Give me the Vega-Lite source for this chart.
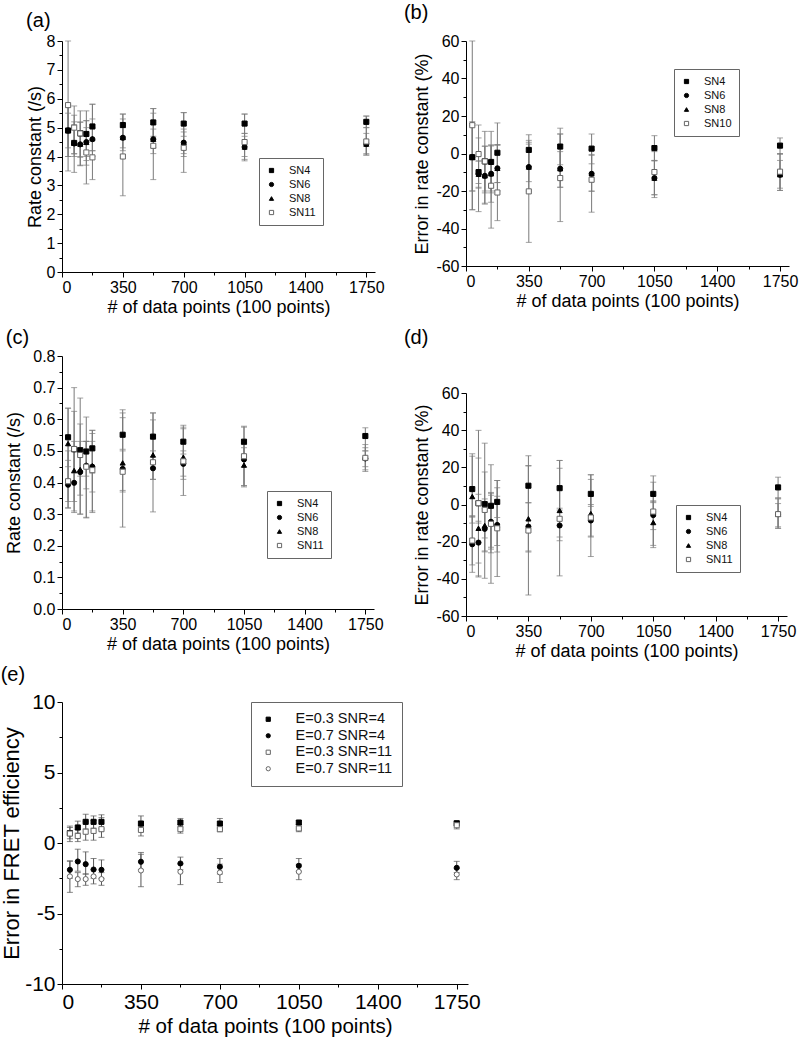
{
"$schema": "https://vega.github.io/schema/vega-lite/v6.json",
"padding": {"left": 0, "top": 3, "right": 2, "bottom": 2},
"columns": 2,
"align": "none",
"spacing": {"row": 12, "column": -78},
"resolve": {"scale": {"shape": "independent", "fill": "independent", "stroke": "independent", "x": "independent", "y": "independent"}, "legend": {"shape": "independent", "fill": "independent", "stroke": "independent"}, "axis": {"x": "independent", "y": "independent"}},
"config": {
  "font": "Liberation Sans",
  "view": {"stroke": null},
  "axis": {"grid": false, "labelOverlap": false, "domainColor": "black", "tickColor": "black", "labelColor": "black", "titleColor": "black", "labelFont": "Liberation Sans", "titleFont": "Liberation Sans", "titleFontWeight": "normal", "labelFontSize": 16, "titleFontSize": 18, "labelPadding": 2, "domainWidth": 1, "tickWidth": 1},
  "legend": {"labelFont": "Liberation Sans", "labelColor": "#111", "strokeColor": "#666", "fillColor": "white", "padding": 7, "labelFontSize": 11, "symbolSize": 18, "rowPadding": 2, "labelOffset": 12, "symbolStrokeWidth": 1},
  "title": {"font": "Liberation Sans", "fontSize": 20, "fontWeight": "normal", "anchor": "start", "color": "black"}
},
"concat": [
{
 "width": 313, "height": 231,
 "title": {"text": "(a)", "offset": 2},
 "data": {"values": [
  {"s":"SN4","n":35,"v":4.9,"lo":4.0,"hi":5.8},
  {"s":"SN8","n":35,"v":4.9,"lo":4.0,"hi":5.7},
  {"s":"SN6","n":35,"v":4.9,"lo":4.3,"hi":5.5},
  {"s":"SN6","n":70,"v":4.45,"lo":4.1,"hi":5.1},
  {"s":"SN6","n":105,"v":4.42,"lo":4.0,"hi":4.9},
  {"s":"SN6","n":140,"v":4.5,"lo":4.0,"hi":5.0},
  {"s":"SN6","n":175,"v":4.6,"lo":4.2,"hi":5.0},
  {"s":"SN6","n":350,"v":4.65,"lo":4.3,"hi":5.0},
  {"s":"SN6","n":525,"v":4.6,"lo":4.3,"hi":4.95},
  {"s":"SN6","n":700,"v":4.48,"lo":4.1,"hi":4.85},
  {"s":"SN6","n":1050,"v":4.33,"lo":4.0,"hi":4.7},
  {"s":"SN6","n":1750,"v":4.43,"lo":4.1,"hi":4.8},
  {"s":"SN4","n":70,"v":4.47,"lo":4.09,"hi":5.43},
  {"s":"SN4","n":105,"v":4.8,"lo":3.97,"hi":5.18},
  {"s":"SN4","n":140,"v":4.78,"lo":3.86,"hi":5.58},
  {"s":"SN4","n":175,"v":5.04,"lo":4.2,"hi":5.81},
  {"s":"SN4","n":350,"v":5.09,"lo":4.7,"hi":5.47},
  {"s":"SN4","n":525,"v":5.18,"lo":4.7,"hi":5.66},
  {"s":"SN4","n":700,"v":5.14,"lo":4.7,"hi":5.52},
  {"s":"SN4","n":1050,"v":5.14,"lo":4.8,"hi":5.47},
  {"s":"SN4","n":1750,"v":5.2,"lo":5.0,"hi":5.4},
  {"s":"SN8","n":70,"v":4.47,"lo":4.0,"hi":5.2},
  {"s":"SN8","n":105,"v":4.43,"lo":3.7,"hi":5.2},
  {"s":"SN8","n":140,"v":4.49,"lo":3.7,"hi":5.24},
  {"s":"SN8","n":175,"v":4.62,"lo":4.0,"hi":5.3},
  {"s":"SN8","n":350,"v":4.66,"lo":4.2,"hi":5.3},
  {"s":"SN8","n":525,"v":4.6,"lo":4.1,"hi":5.5},
  {"s":"SN8","n":700,"v":4.48,"lo":4.0,"hi":4.95},
  {"s":"SN8","n":1050,"v":4.33,"lo":3.9,"hi":4.8},
  {"s":"SN8","n":1750,"v":4.43,"lo":4.05,"hi":5.0},
  {"s":"SN11","n":35,"v":5.78,"lo":3.5,"hi":8.0},
  {"s":"SN11","n":70,"v":5.0,"lo":3.45,"hi":5.75},
  {"s":"SN11","n":105,"v":4.8,"lo":3.68,"hi":5.58},
  {"s":"SN11","n":140,"v":4.14,"lo":3.05,"hi":5.24},
  {"s":"SN11","n":175,"v":3.97,"lo":3.2,"hi":5.81},
  {"s":"SN11","n":350,"v":4.0,"lo":2.64,"hi":5.47},
  {"s":"SN11","n":525,"v":4.37,"lo":3.2,"hi":5.66},
  {"s":"SN11","n":700,"v":4.3,"lo":3.45,"hi":5.52},
  {"s":"SN11","n":1050,"v":4.5,"lo":3.85,"hi":5.47},
  {"s":"SN11","n":1750,"v":4.52,"lo":4.05,"hi":5.4}
 ]},
 "layer": [
  {"mark": {"type": "errorbar", "ticks": true, "color": "#7a7a7a", "size": 6, "thickness": 1},
   "encoding": {
    "x": {"field": "n", "type": "quantitative", "title": "# of data points (100 points)", "scale": {"domain": [0, 1800], "nice": false},
      "axis": {"labelOverlap": false, "values": [0,175,350,525,700,875,1050,1225,1400,1575,1750], "labelExpr": "datum.value % 350 === 0 ? '' + datum.value : ''", "tickSize": {"condition": {"test": "datum.value % 350 !== 0", "value": 3}, "value": 5}, "titlePadding": 3}},
    "y": {"field": "lo", "type": "quantitative", "title": "Rate constant (/s)", "scale": {"domain": [0, 8], "nice": false},
      "axis": {"labelOverlap": false, "values": [0,0.5,1,1.5,2,2.5,3,3.5,4,4.5,5,5.5,6,6.5,7,7.5,8], "labelExpr": "datum.value % 1 === 0 ? '' + datum.value : ''", "tickSize": {"condition": {"test": "datum.value % 1 !== 0", "value": 3}, "value": 5}, "titlePadding": 2}},
    "y2": {"field": "hi"}
   }},
  {"mark": {"type": "point", "filled": true, "size": 26, "strokeWidth": 1, "opacity": 1},
   "encoding": {
    "x": {"field": "n", "type": "quantitative", "title": "# of data points (100 points)",
      "axis": {"labelOverlap": false, "values": [0,175,350,525,700,875,1050,1225,1400,1575,1750], "labelExpr": "datum.value % 350 === 0 ? '' + datum.value : ''", "tickSize": {"condition": {"test": "datum.value % 350 !== 0", "value": 3}, "value": 5}, "titlePadding": 3}},
    "y": {"field": "v", "type": "quantitative", "title": "Rate constant (/s)",
      "axis": {"labelOverlap": false, "values": [0,0.5,1,1.5,2,2.5,3,3.5,4,4.5,5,5.5,6,6.5,7,7.5,8], "labelExpr": "datum.value % 1 === 0 ? '' + datum.value : ''", "tickSize": {"condition": {"test": "datum.value % 1 !== 0", "value": 3}, "value": 5}, "titlePadding": 2}},
    "shape": {"field": "s", "type": "nominal", "scale": {"domain": ["SN4","SN6","SN8","SN11"], "range": ["square","circle","triangle-up","square"]}, "legend": {"title": null, "orient": "none", "legendX": 197, "legendY": 117}},
    "fill": {"field": "s", "type": "nominal", "scale": {"domain": ["SN4","SN6","SN8","SN11"], "range": ["black","black","black","white"]}, "legend": {"title": null, "orient": "none", "legendX": 197, "legendY": 117}},
    "stroke": {"field": "s", "type": "nominal", "scale": {"domain": ["SN4","SN6","SN8","SN11"], "range": ["black","black","black","#666"]}, "legend": {"title": null, "orient": "none", "legendX": 197, "legendY": 117}}
   }}
 ]
},
{
 "width": 323, "height": 225,
 "title": {"text": "(b)", "offset": 10, "dx": -10},
 "data": {"values": [
  {"s":"SN4","n":35,"v":-2.0,"lo":-20,"hi":17},
  {"s":"SN8","n":35,"v":-2.0,"lo":-30,"hi":16},
  {"s":"SN6","n":35,"v":-1.9,"lo":-20,"hi":15},
  {"s":"SN6","n":70,"v":-11,"lo":-18,"hi":-4},
  {"s":"SN6","n":105,"v":-11.9,"lo":-21,"hi":-3},
  {"s":"SN6","n":140,"v":-10.8,"lo":-20,"hi":4},
  {"s":"SN6","n":175,"v":-7.9,"lo":-15.5,"hi":4.5},
  {"s":"SN6","n":350,"v":-7.2,"lo":-15,"hi":5},
  {"s":"SN6","n":525,"v":-8.1,"lo":-18,"hi":1},
  {"s":"SN6","n":700,"v":-10.8,"lo":-20,"hi":-1},
  {"s":"SN6","n":1050,"v":-13.1,"lo":-22,"hi":-4},
  {"s":"SN6","n":1750,"v":-11.3,"lo":-19.7,"hi":-3.7},
  {"s":"SN4","n":70,"v":-9.9,"lo":-16,"hi":8.3},
  {"s":"SN4","n":105,"v":-4.2,"lo":-20,"hi":4},
  {"s":"SN4","n":140,"v":-4.5,"lo":-26,"hi":11.8},
  {"s":"SN4","n":175,"v":0.4,"lo":-15.5,"hi":16.3},
  {"s":"SN4","n":350,"v":1.9,"lo":-7,"hi":10},
  {"s":"SN4","n":525,"v":3.7,"lo":-6,"hi":13.5},
  {"s":"SN4","n":700,"v":2.6,"lo":-5.5,"hi":10.4},
  {"s":"SN4","n":1050,"v":2.9,"lo":-3.7,"hi":9.5},
  {"s":"SN4","n":1750,"v":4.2,"lo":-0.3,"hi":8.3},
  {"s":"SN8","n":70,"v":-11,"lo":-18.5,"hi":-4},
  {"s":"SN8","n":105,"v":-11.9,"lo":-26.5,"hi":3.8},
  {"s":"SN8","n":140,"v":-10.8,"lo":-21,"hi":4.5},
  {"s":"SN8","n":175,"v":-7.9,"lo":-20,"hi":4.5},
  {"s":"SN8","n":350,"v":-7.2,"lo":-20,"hi":6},
  {"s":"SN8","n":525,"v":-8.1,"lo":-18,"hi":10.4},
  {"s":"SN8","n":700,"v":-10.8,"lo":-20.2,"hi":-0.5},
  {"s":"SN8","n":1050,"v":-13.1,"lo":-23.5,"hi":-3.7},
  {"s":"SN8","n":1750,"v":-11.3,"lo":-19.7,"hi":-0.3},
  {"s":"SN10","n":35,"v":15.1,"lo":-30,"hi":60},
  {"s":"SN10","n":70,"v":-0.3,"lo":-31,"hi":15.2},
  {"s":"SN10","n":105,"v":-4.2,"lo":-27,"hi":11.8},
  {"s":"SN10","n":140,"v":-17.2,"lo":-39.8,"hi":4.5},
  {"s":"SN10","n":175,"v":-20.8,"lo":-35.8,"hi":4.8},
  {"s":"SN10","n":350,"v":-20.2,"lo":-47.4,"hi":7},
  {"s":"SN10","n":525,"v":-13.1,"lo":-36.3,"hi":10.4},
  {"s":"SN10","n":700,"v":-14,"lo":-31.3,"hi":2},
  {"s":"SN10","n":1050,"v":-9.9,"lo":-22,"hi":1},
  {"s":"SN10","n":1750,"v":-9.7,"lo":-18.5,"hi":0}
 ]},
 "layer": [
  {"mark": {"type": "errorbar", "ticks": true, "color": "#7a7a7a", "size": 6, "thickness": 1},
   "encoding": {
    "x": {"field": "n", "type": "quantitative", "title": "# of data points (100 points)", "scale": {"domain": [0, 1800], "nice": false},
      "axis": {"labelOverlap": false, "values": [0,175,350,525,700,875,1050,1225,1400,1575,1750], "labelExpr": "datum.value % 350 === 0 ? '' + datum.value : ''", "tickSize": {"condition": {"test": "datum.value % 350 !== 0", "value": 3}, "value": 5}, "titlePadding": 3}},
    "y": {"field": "lo", "type": "quantitative", "title": "Error in rate constant (%)", "scale": {"domain": [-60, 60], "nice": false},
      "axis": {"labelOverlap": false, "values": [-60,-50,-40,-30,-20,-10,0,10,20,30,40,50,60], "labelExpr": "datum.value % 20 === 0 ? '' + datum.value : ''", "tickSize": {"condition": {"test": "datum.value % 20 !== 0", "value": 3}, "value": 5}, "titlePadding": 4}},
    "y2": {"field": "hi"}
   }},
  {"mark": {"type": "point", "filled": true, "size": 26, "strokeWidth": 1, "opacity": 1},
   "encoding": {
    "x": {"field": "n", "type": "quantitative", "title": "# of data points (100 points)",
      "axis": {"labelOverlap": false, "values": [0,175,350,525,700,875,1050,1225,1400,1575,1750], "labelExpr": "datum.value % 350 === 0 ? '' + datum.value : ''", "tickSize": {"condition": {"test": "datum.value % 350 !== 0", "value": 3}, "value": 5}, "titlePadding": 3}},
    "y": {"field": "v", "type": "quantitative", "title": "Error in rate constant (%)",
      "axis": {"labelOverlap": false, "values": [-60,-50,-40,-30,-20,-10,0,10,20,30,40,50,60], "labelExpr": "datum.value % 20 === 0 ? '' + datum.value : ''", "tickSize": {"condition": {"test": "datum.value % 20 !== 0", "value": 3}, "value": 5}, "titlePadding": 4}},
    "shape": {"field": "s", "type": "nominal", "scale": {"domain": ["SN4","SN6","SN8","SN10"], "range": ["square","circle","triangle-up","square"]}, "legend": {"title": null, "orient": "none", "legendX": 208, "legendY": 28}},
    "fill": {"field": "s", "type": "nominal", "scale": {"domain": ["SN4","SN6","SN8","SN10"], "range": ["black","black","black","white"]}, "legend": {"title": null, "orient": "none", "legendX": 208, "legendY": 28}},
    "stroke": {"field": "s", "type": "nominal", "scale": {"domain": ["SN4","SN6","SN8","SN10"], "range": ["black","black","black","#666"]}, "legend": {"title": null, "orient": "none", "legendX": 208, "legendY": 28}}
   }}
 ]
},
{
 "width": 312, "height": 253,
 "title": {"text": "(c)", "offset": 0},
 "data": {"values": [
  {"s":"SN4","n":35,"v":0.543,"lo":0.45,"hi":0.635},
  {"s":"SN4","n":70,"v":0.505,"lo":0.43,"hi":0.625},
  {"s":"SN4","n":105,"v":0.502,"lo":0.42,"hi":0.585},
  {"s":"SN4","n":140,"v":0.498,"lo":0.42,"hi":0.53},
  {"s":"SN4","n":175,"v":0.508,"lo":0.43,"hi":0.565},
  {"s":"SN4","n":350,"v":0.551,"lo":0.505,"hi":0.63},
  {"s":"SN4","n":525,"v":0.545,"lo":0.46,"hi":0.62},
  {"s":"SN4","n":700,"v":0.529,"lo":0.49,"hi":0.581},
  {"s":"SN4","n":1050,"v":0.529,"lo":0.48,"hi":0.578},
  {"s":"SN4","n":1750,"v":0.547,"lo":0.5,"hi":0.573},
  {"s":"SN6","n":35,"v":0.393,"lo":0.32,"hi":0.47},
  {"s":"SN6","n":70,"v":0.399,"lo":0.31,"hi":0.5},
  {"s":"SN6","n":105,"v":0.433,"lo":0.36,"hi":0.53},
  {"s":"SN6","n":140,"v":0.453,"lo":0.38,"hi":0.53},
  {"s":"SN6","n":175,"v":0.45,"lo":0.37,"hi":0.53},
  {"s":"SN6","n":350,"v":0.443,"lo":0.37,"hi":0.5},
  {"s":"SN6","n":525,"v":0.445,"lo":0.41,"hi":0.5},
  {"s":"SN6","n":700,"v":0.459,"lo":0.41,"hi":0.5},
  {"s":"SN6","n":1050,"v":0.473,"lo":0.39,"hi":0.52},
  {"s":"SN6","n":1750,"v":0.476,"lo":0.44,"hi":0.5},
  {"s":"SN8","n":35,"v":0.523,"lo":0.34,"hi":0.635},
  {"s":"SN8","n":70,"v":0.438,"lo":0.34,"hi":0.53},
  {"s":"SN8","n":105,"v":0.441,"lo":0.3,"hi":0.51},
  {"s":"SN8","n":140,"v":0.455,"lo":0.288,"hi":0.53},
  {"s":"SN8","n":175,"v":0.453,"lo":0.31,"hi":0.565},
  {"s":"SN8","n":350,"v":0.462,"lo":0.375,"hi":0.605},
  {"s":"SN8","n":525,"v":0.487,"lo":0.41,"hi":0.598},
  {"s":"SN8","n":700,"v":0.48,"lo":0.42,"hi":0.57},
  {"s":"SN8","n":1050,"v":0.455,"lo":0.386,"hi":0.51},
  {"s":"SN8","n":1750,"v":0.478,"lo":0.45,"hi":0.51},
  {"s":"SN11","n":35,"v":0.404,"lo":0.319,"hi":0.5},
  {"s":"SN11","n":70,"v":0.506,"lo":0.305,"hi":0.7},
  {"s":"SN11","n":105,"v":0.487,"lo":0.3,"hi":0.667},
  {"s":"SN11","n":140,"v":0.45,"lo":0.29,"hi":0.607},
  {"s":"SN11","n":175,"v":0.439,"lo":0.305,"hi":0.555},
  {"s":"SN11","n":350,"v":0.434,"lo":0.259,"hi":0.62},
  {"s":"SN11","n":525,"v":0.464,"lo":0.307,"hi":0.62},
  {"s":"SN11","n":700,"v":0.467,"lo":0.359,"hi":0.575},
  {"s":"SN11","n":1050,"v":0.483,"lo":0.39,"hi":0.575},
  {"s":"SN11","n":1750,"v":0.478,"lo":0.435,"hi":0.52}
 ]},
 "layer": [
  {"mark": {"type": "errorbar", "ticks": true, "color": "#7a7a7a", "size": 6, "thickness": 1},
   "encoding": {
    "x": {"field": "n", "type": "quantitative", "title": "# of data points (100 points)", "scale": {"domain": [0, 1800], "nice": false},
      "axis": {"labelOverlap": false, "values": [0,175,350,525,700,875,1050,1225,1400,1575,1750], "labelExpr": "datum.value % 350 === 0 ? '' + datum.value : ''", "tickSize": {"condition": {"test": "datum.value % 350 !== 0", "value": 3}, "value": 5}, "titlePadding": 3}},
    "y": {"field": "lo", "type": "quantitative", "title": "Rate constant (/s)", "scale": {"domain": [0, 0.8], "nice": false},
      "axis": {"labelOverlap": false, "values": [0,0.05,0.1,0.15,0.2,0.25,0.3,0.35,0.4,0.45,0.5,0.55,0.6,0.65,0.7,0.75,0.8], "labelExpr": "abs(datum.value*10 - round(datum.value*10)) < 0.001 ? format(datum.value, '.1f') : ''", "tickSize": {"condition": {"test": "abs(datum.value*10 - round(datum.value*10)) > 0.001", "value": 3}, "value": 5}, "titlePadding": 9}},
    "y2": {"field": "hi"}
   }},
  {"mark": {"type": "point", "filled": true, "size": 26, "strokeWidth": 1, "opacity": 1},
   "encoding": {
    "x": {"field": "n", "type": "quantitative", "title": "# of data points (100 points)",
      "axis": {"labelOverlap": false, "values": [0,175,350,525,700,875,1050,1225,1400,1575,1750], "labelExpr": "datum.value % 350 === 0 ? '' + datum.value : ''", "tickSize": {"condition": {"test": "datum.value % 350 !== 0", "value": 3}, "value": 5}, "titlePadding": 3}},
    "y": {"field": "v", "type": "quantitative", "title": "Rate constant (/s)",
      "axis": {"labelOverlap": false, "values": [0,0.05,0.1,0.15,0.2,0.25,0.3,0.35,0.4,0.45,0.5,0.55,0.6,0.65,0.7,0.75,0.8], "labelExpr": "abs(datum.value*10 - round(datum.value*10)) < 0.001 ? format(datum.value, '.1f') : ''", "tickSize": {"condition": {"test": "abs(datum.value*10 - round(datum.value*10)) > 0.001", "value": 3}, "value": 5}, "titlePadding": 9}},
    "shape": {"field": "s", "type": "nominal", "scale": {"domain": ["SN4","SN6","SN8","SN11"], "range": ["square","circle","triangle-up","square"]}, "legend": {"title": null, "orient": "none", "legendX": 205, "legendY": 135}},
    "fill": {"field": "s", "type": "nominal", "scale": {"domain": ["SN4","SN6","SN8","SN11"], "range": ["black","black","black","white"]}, "legend": {"title": null, "orient": "none", "legendX": 205, "legendY": 135}},
    "stroke": {"field": "s", "type": "nominal", "scale": {"domain": ["SN4","SN6","SN8","SN11"], "range": ["black","black","black","#666"]}, "legend": {"title": null, "orient": "none", "legendX": 205, "legendY": 135}}
   }}
 ]
},
{
 "width": 321, "height": 223,
 "title": {"text": "(d)", "offset": 37, "dx": -10},
 "data": {"values": [
  {"s":"SN4","n":35,"v":8.3,"lo":-6.8,"hi":27.3},
  {"s":"SN4","n":70,"v":0.7,"lo":-10,"hi":25},
  {"s":"SN4","n":105,"v":0.2,"lo":-18,"hi":17.5},
  {"s":"SN4","n":140,"v":-0.7,"lo":-24,"hi":6},
  {"s":"SN4","n":175,"v":1.4,"lo":-7,"hi":12.9},
  {"s":"SN4","n":350,"v":10.1,"lo":1,"hi":26.2},
  {"s":"SN4","n":525,"v":8.8,"lo":-2,"hi":23.7},
  {"s":"SN4","n":700,"v":5.7,"lo":-1,"hi":16},
  {"s":"SN4","n":1050,"v":5.7,"lo":1,"hi":15.4},
  {"s":"SN4","n":1750,"v":9.2,"lo":3.5,"hi":14.7},
  {"s":"SN6","n":35,"v":-21.4,"lo":-36.5,"hi":-6},
  {"s":"SN6","n":70,"v":-20.5,"lo":-31.5,"hi":-9},
  {"s":"SN6","n":105,"v":-13.1,"lo":-25,"hi":-2},
  {"s":"SN6","n":140,"v":-9.3,"lo":-23,"hi":6.5},
  {"s":"SN6","n":175,"v":-11,"lo":-22,"hi":4.5},
  {"s":"SN6","n":350,"v":-11.9,"lo":-25.5,"hi":1},
  {"s":"SN6","n":525,"v":-11.3,"lo":-19.5,"hi":-3},
  {"s":"SN6","n":700,"v":-8.6,"lo":-17.5,"hi":0},
  {"s":"SN6","n":1050,"v":-5.7,"lo":-13.5,"hi":2},
  {"s":"SN6","n":1750,"v":-5.2,"lo":-12,"hi":0.5},
  {"s":"SN8","n":35,"v":4.3,"lo":-10,"hi":26},
  {"s":"SN8","n":70,"v":-12.8,"lo":-38.4,"hi":5.5},
  {"s":"SN8","n":105,"v":-11.3,"lo":-25.5,"hi":3},
  {"s":"SN8","n":140,"v":-9.3,"lo":-26,"hi":5},
  {"s":"SN8","n":175,"v":-11,"lo":-25.5,"hi":9},
  {"s":"SN8","n":350,"v":-7.7,"lo":-25,"hi":21},
  {"s":"SN8","n":525,"v":-3.2,"lo":-17.5,"hi":19.5},
  {"s":"SN8","n":700,"v":-4.9,"lo":-17,"hi":13.5},
  {"s":"SN8","n":1050,"v":-9.7,"lo":-22,"hi":1.5},
  {"s":"SN8","n":1750,"v":-5.2,"lo":-12.8,"hi":3.5},
  {"s":"SN11","n":35,"v":-19.4,"lo":-32.5,"hi":-6.5},
  {"s":"SN11","n":70,"v":0.7,"lo":-39,"hi":39.9},
  {"s":"SN11","n":105,"v":-2.9,"lo":-39.7,"hi":33},
  {"s":"SN11","n":140,"v":-10.4,"lo":-42.4,"hi":21.4},
  {"s":"SN11","n":175,"v":-12.8,"lo":-38.8,"hi":12.9},
  {"s":"SN11","n":350,"v":-14,"lo":-48.7,"hi":20.7},
  {"s":"SN11","n":525,"v":-7.7,"lo":-38.4,"hi":23.7},
  {"s":"SN11","n":700,"v":-7,"lo":-28,"hi":16},
  {"s":"SN11","n":1050,"v":-3.8,"lo":-23.2,"hi":12},
  {"s":"SN11","n":1750,"v":-5.2,"lo":-12.8,"hi":3}
 ]},
 "layer": [
  {"mark": {"type": "errorbar", "ticks": true, "color": "#7a7a7a", "size": 6, "thickness": 1},
   "encoding": {
    "x": {"field": "n", "type": "quantitative", "title": "# of data points (100 points)", "scale": {"domain": [0, 1800], "nice": false},
      "axis": {"labelOverlap": false, "values": [0,175,350,525,700,875,1050,1225,1400,1575,1750], "labelExpr": "datum.value % 350 === 0 ? '' + datum.value : ''", "tickSize": {"condition": {"test": "datum.value % 350 !== 0", "value": 3}, "value": 5}, "titlePadding": 3}},
    "y": {"field": "lo", "type": "quantitative", "title": "Error in rate constant (%)", "scale": {"domain": [-60, 60], "nice": false},
      "axis": {"labelOverlap": false, "values": [-60,-50,-40,-30,-20,-10,0,10,20,30,40,50,60], "labelExpr": "datum.value % 20 === 0 ? '' + datum.value : ''", "tickSize": {"condition": {"test": "datum.value % 20 !== 0", "value": 3}, "value": 5}, "titlePadding": 4}},
    "y2": {"field": "hi"}
   }},
  {"mark": {"type": "point", "filled": true, "size": 26, "strokeWidth": 1, "opacity": 1},
   "encoding": {
    "x": {"field": "n", "type": "quantitative", "title": "# of data points (100 points)",
      "axis": {"labelOverlap": false, "values": [0,175,350,525,700,875,1050,1225,1400,1575,1750], "labelExpr": "datum.value % 350 === 0 ? '' + datum.value : ''", "tickSize": {"condition": {"test": "datum.value % 350 !== 0", "value": 3}, "value": 5}, "titlePadding": 3}},
    "y": {"field": "v", "type": "quantitative", "title": "Error in rate constant (%)",
      "axis": {"labelOverlap": false, "values": [-60,-50,-40,-30,-20,-10,0,10,20,30,40,50,60], "labelExpr": "datum.value % 20 === 0 ? '' + datum.value : ''", "tickSize": {"condition": {"test": "datum.value % 20 !== 0", "value": 3}, "value": 5}, "titlePadding": 4}},
    "shape": {"field": "s", "type": "nominal", "scale": {"domain": ["SN4","SN6","SN8","SN11"], "range": ["square","circle","triangle-up","square"]}, "legend": {"title": null, "orient": "none", "legendX": 210, "legendY": 112}},
    "fill": {"field": "s", "type": "nominal", "scale": {"domain": ["SN4","SN6","SN8","SN11"], "range": ["black","black","black","white"]}, "legend": {"title": null, "orient": "none", "legendX": 210, "legendY": 112}},
    "stroke": {"field": "s", "type": "nominal", "scale": {"domain": ["SN4","SN6","SN8","SN11"], "range": ["black","black","black","#666"]}, "legend": {"title": null, "orient": "none", "legendX": 210, "legendY": 112}}
   }}
 ]
},
{
 "width": 406, "height": 282,
 "title": {"text": "(e)", "offset": 6},
 "data": {"values": [
  {"s":"E=0.3 SNR=4","n":35,"v":0.7,"lo":0.3,"hi":1.1},
  {"s":"E=0.3 SNR=4","n":70,"v":1.1,"lo":0.7,"hi":1.55},
  {"s":"E=0.3 SNR=4","n":105,"v":1.5,"lo":1.0,"hi":2.04},
  {"s":"E=0.3 SNR=4","n":140,"v":1.5,"lo":1.05,"hi":1.92},
  {"s":"E=0.3 SNR=4","n":175,"v":1.5,"lo":1.0,"hi":2.0},
  {"s":"E=0.3 SNR=4","n":350,"v":1.38,"lo":0.9,"hi":1.92},
  {"s":"E=0.3 SNR=4","n":525,"v":1.45,"lo":1.15,"hi":1.74},
  {"s":"E=0.3 SNR=4","n":700,"v":1.38,"lo":1.05,"hi":1.74},
  {"s":"E=0.3 SNR=4","n":1050,"v":1.45,"lo":1.3,"hi":1.6},
  {"s":"E=0.3 SNR=4","n":1750,"v":1.4,"lo":1.25,"hi":1.55},
  {"s":"E=0.7 SNR=4","n":35,"v":-1.9,"lo":-2.5,"hi":-1.26},
  {"s":"E=0.7 SNR=4","n":70,"v":-1.31,"lo":-2.0,"hi":-0.44},
  {"s":"E=0.7 SNR=4","n":105,"v":-1.5,"lo":-2.2,"hi":-0.63},
  {"s":"E=0.7 SNR=4","n":140,"v":-1.88,"lo":-2.5,"hi":-1.1},
  {"s":"E=0.7 SNR=4","n":175,"v":-1.9,"lo":-2.5,"hi":-1.2},
  {"s":"E=0.7 SNR=4","n":350,"v":-1.33,"lo":-1.9,"hi":-0.67},
  {"s":"E=0.7 SNR=4","n":525,"v":-1.45,"lo":-1.9,"hi":-1.0},
  {"s":"E=0.7 SNR=4","n":700,"v":-1.69,"lo":-2.2,"hi":-1.1},
  {"s":"E=0.7 SNR=4","n":1050,"v":-1.62,"lo":-2.0,"hi":-1.1},
  {"s":"E=0.7 SNR=4","n":1750,"v":-1.76,"lo":-2.1,"hi":-1.3},
  {"s":"E=0.3 SNR=11","n":35,"v":0.67,"lo":0.1,"hi":1.2},
  {"s":"E=0.3 SNR=11","n":70,"v":0.5,"lo":0.1,"hi":0.95},
  {"s":"E=0.3 SNR=11","n":105,"v":0.8,"lo":0.2,"hi":1.5},
  {"s":"E=0.3 SNR=11","n":140,"v":0.86,"lo":0.2,"hi":1.6},
  {"s":"E=0.3 SNR=11","n":175,"v":0.98,"lo":0.4,"hi":1.8},
  {"s":"E=0.3 SNR=11","n":350,"v":0.93,"lo":0.5,"hi":1.2},
  {"s":"E=0.3 SNR=11","n":525,"v":0.98,"lo":0.7,"hi":1.3},
  {"s":"E=0.3 SNR=11","n":700,"v":0.98,"lo":0.8,"hi":1.2},
  {"s":"E=0.3 SNR=11","n":1050,"v":1.03,"lo":0.8,"hi":1.3},
  {"s":"E=0.3 SNR=11","n":1750,"v":1.26,"lo":1.0,"hi":1.5},
  {"s":"E=0.7 SNR=11","n":35,"v":-2.37,"lo":-3.5,"hi":-1.3},
  {"s":"E=0.7 SNR=11","n":70,"v":-2.56,"lo":-3.1,"hi":-2.1},
  {"s":"E=0.7 SNR=11","n":105,"v":-2.56,"lo":-3.0,"hi":-2.2},
  {"s":"E=0.7 SNR=11","n":140,"v":-2.37,"lo":-2.9,"hi":-1.9},
  {"s":"E=0.7 SNR=11","n":175,"v":-2.56,"lo":-3.0,"hi":-2.1},
  {"s":"E=0.7 SNR=11","n":350,"v":-1.95,"lo":-3.1,"hi":-0.8},
  {"s":"E=0.7 SNR=11","n":525,"v":-2.04,"lo":-2.95,"hi":-1.5},
  {"s":"E=0.7 SNR=11","n":700,"v":-2.09,"lo":-2.8,"hi":-1.5},
  {"s":"E=0.7 SNR=11","n":1050,"v":-2.04,"lo":-2.6,"hi":-1.5},
  {"s":"E=0.7 SNR=11","n":1750,"v":-2.23,"lo":-2.6,"hi":-1.8}
 ]},
 "layer": [
  {"mark": {"type": "errorbar", "ticks": true, "color": "#555", "size": 6, "thickness": 1},
   "encoding": {
    "x": {"field": "n", "type": "quantitative", "title": "# of data points (100 points)", "scale": {"domain": [0, 1800], "nice": false},
      "axis": {"labelOverlap": false, "values": [0,175,350,525,700,875,1050,1225,1400,1575,1750], "labelExpr": "datum.value % 350 === 0 ? '' + datum.value : ''", "tickSize": {"condition": {"test": "datum.value % 350 !== 0", "value": 3}, "value": 5}, "labelFontSize": 21, "titleFontSize": 20.5, "titlePadding": 4}},
    "y": {"field": "lo", "type": "quantitative", "title": "Error in FRET efficiency", "scale": {"domain": [-10, 10], "nice": false},
      "axis": {"labelOverlap": false, "values": [-10,-7.5,-5,-2.5,0,2.5,5,7.5,10], "labelExpr": "datum.value % 5 === 0 ? '' + datum.value : ''", "tickSize": {"condition": {"test": "datum.value % 5 !== 0", "value": 3}, "value": 5}, "labelFontSize": 21, "titleFontSize": 22, "titlePadding": 1}},
    "y2": {"field": "hi"}
   }},
  {"mark": {"type": "point", "filled": true, "size": 26, "strokeWidth": 1, "opacity": 1},
   "encoding": {
    "x": {"field": "n", "type": "quantitative", "title": "# of data points (100 points)",
      "axis": {"labelOverlap": false, "values": [0,175,350,525,700,875,1050,1225,1400,1575,1750], "labelExpr": "datum.value % 350 === 0 ? '' + datum.value : ''", "tickSize": {"condition": {"test": "datum.value % 350 !== 0", "value": 3}, "value": 5}, "labelFontSize": 21, "titleFontSize": 20.5, "titlePadding": 4}},
    "y": {"field": "v", "type": "quantitative", "title": "Error in FRET efficiency",
      "axis": {"labelOverlap": false, "values": [-10,-7.5,-5,-2.5,0,2.5,5,7.5,10], "labelExpr": "datum.value % 5 === 0 ? '' + datum.value : ''", "tickSize": {"condition": {"test": "datum.value % 5 !== 0", "value": 3}, "value": 5}, "labelFontSize": 21, "titleFontSize": 22, "titlePadding": 1}},
    "shape": {"field": "s", "type": "nominal", "scale": {"domain": ["E=0.3 SNR=4","E=0.7 SNR=4","E=0.3 SNR=11","E=0.7 SNR=11"], "range": ["square","circle","square","circle"]}, "legend": {"title": null, "orient": "none", "legendX": 189, "legendY": 0, "labelFontSize": 14.5, "rowPadding": 1.5, "labelOffset": 20, "padding": 10}},
    "fill": {"field": "s", "type": "nominal", "scale": {"domain": ["E=0.3 SNR=4","E=0.7 SNR=4","E=0.3 SNR=11","E=0.7 SNR=11"], "range": ["black","black","white","white"]}, "legend": {"title": null, "orient": "none", "legendX": 189, "legendY": 0, "labelFontSize": 14.5, "rowPadding": 1.5, "labelOffset": 20, "padding": 10}},
    "stroke": {"field": "s", "type": "nominal", "scale": {"domain": ["E=0.3 SNR=4","E=0.7 SNR=4","E=0.3 SNR=11","E=0.7 SNR=11"], "range": ["black","black","#666","#666"]}, "legend": {"title": null, "orient": "none", "legendX": 189, "legendY": 0, "labelFontSize": 14.5, "rowPadding": 1.5, "labelOffset": 20, "padding": 10}}
   }}
 ]
}
]
}
